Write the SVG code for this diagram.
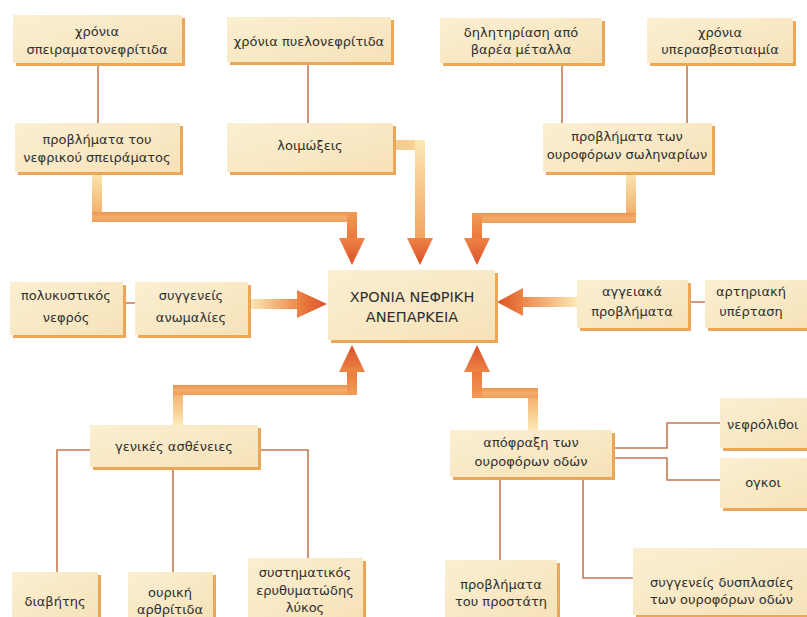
<svg xmlns="http://www.w3.org/2000/svg" width="807" height="617" viewBox="0 0 807 617">
<defs>
<linearGradient id="boxFill" x1="0" y1="0" x2="1" y2="1">
<stop offset="0" stop-color="#fbefd2"/><stop offset="1" stop-color="#f6e2b8"/>
</linearGradient>
<linearGradient id="gDown" x1="0" y1="0" x2="0" y2="1">
<stop offset="0" stop-color="#fce8b4"/><stop offset="1" stop-color="#f0a45e"/>
</linearGradient>
<linearGradient id="gUp" x1="0" y1="1" x2="0" y2="0">
<stop offset="0" stop-color="#fce8b4"/><stop offset="1" stop-color="#f0a45e"/>
</linearGradient>
<linearGradient id="gDownEnd" x1="0" y1="0" x2="0" y2="1">
<stop offset="0" stop-color="#f09c56"/><stop offset="1" stop-color="#e9753a"/>
</linearGradient>
<linearGradient id="gUpEnd" x1="0" y1="1" x2="0" y2="0">
<stop offset="0" stop-color="#f09c56"/><stop offset="1" stop-color="#e9753a"/>
</linearGradient>
<linearGradient id="gRight" x1="0" y1="0" x2="1" y2="0">
<stop offset="0" stop-color="#fce8b4"/><stop offset="1" stop-color="#ec8446"/>
</linearGradient>
<linearGradient id="gLeft" x1="1" y1="0" x2="0" y2="0">
<stop offset="0" stop-color="#fce8b4"/><stop offset="1" stop-color="#ec8446"/>
</linearGradient>
<linearGradient id="gStub" x1="0" y1="0" x2="1" y2="0">
<stop offset="0" stop-color="#f6c88a"/><stop offset="1" stop-color="#f8d8a0"/>
</linearGradient>
<linearGradient id="gBand" x1="0" y1="0" x2="0" y2="1">
<stop offset="0" stop-color="#ec9450"/><stop offset="0.5" stop-color="#f3ad6a"/><stop offset="1" stop-color="#ef9e5a"/>
</linearGradient>
<linearGradient id="gHeadD" x1="0" y1="0" x2="0" y2="1">
<stop offset="0" stop-color="#ee8444"/><stop offset="1" stop-color="#d9502a"/>
</linearGradient>
<linearGradient id="gHeadU" x1="0" y1="1" x2="0" y2="0">
<stop offset="0" stop-color="#ee8444"/><stop offset="1" stop-color="#d9502a"/>
</linearGradient>
<linearGradient id="gHeadR" x1="0" y1="0" x2="1" y2="0">
<stop offset="0" stop-color="#ee8444"/><stop offset="1" stop-color="#d9502a"/>
</linearGradient>
<linearGradient id="gHeadL" x1="1" y1="0" x2="0" y2="0">
<stop offset="0" stop-color="#ee8444"/><stop offset="1" stop-color="#d9502a"/>
</linearGradient>
</defs>
<style>
.sh{fill:#eba656}
.bx{fill:url(#boxFill)}
text{font-family:"DejaVu Sans","Liberation Sans",sans-serif;font-size:13px;fill:#2f2f2f;text-anchor:middle}
.st{text-anchor:start}
.big{font-size:14.5px}
.ln{fill:none;stroke:#c27a52;stroke-width:1.6}
.band{fill:url(#gBand)}
</style>
<rect width="807" height="617" fill="#ffffff"/>

<g id="connectors">
<path class="ln" d="M98 63V123M308 62V123M562 63V123M687 63V123M123 303H135M688 302H705"/>
<path class="ln" d="M90 450H57V572M173 467V572M258 450H308V558"/>
<path class="ln" d="M612 448H667V423H720M612 458H667V480H720M500 477V560M583 477V578H633"/>
<!-- arrow A -->
<rect x="92" y="172" width="10" height="50" fill="url(#gDown)"/>
<rect class="band" x="92" y="212" width="265" height="10"/>
<rect x="347" y="212" width="10" height="28" fill="url(#gDownEnd)"/>
<polygon points="339,238 365,238 352,265" fill="url(#gHeadD)"/>
<!-- arrow B -->
<rect x="393" y="140" width="32" height="10" fill="url(#gStub)"/>
<rect x="415" y="140" width="10" height="100" fill="url(#gDown)"/>
<polygon points="407,238 433,238 420,265" fill="url(#gHeadD)"/>
<!-- arrow C -->
<rect x="626" y="172" width="10" height="50" fill="url(#gDown)"/>
<rect class="band" x="472" y="213" width="164" height="10"/>
<rect x="472" y="213" width="10" height="27" fill="url(#gDownEnd)"/>
<polygon points="464,238 490,238 477,265" fill="url(#gHeadD)"/>
<!-- arrow D -->
<rect x="250" y="299" width="50" height="10" fill="url(#gRight)"/>
<polygon points="297,290 297,318 327,304" fill="url(#gHeadR)"/>
<!-- arrow E -->
<rect x="520" y="297" width="57" height="10" fill="url(#gLeft)"/>
<polygon points="523,288 523,316 497,302" fill="url(#gHeadL)"/>
<!-- arrow F -->
<rect x="173" y="385" width="10" height="40" fill="url(#gUp)"/>
<rect class="band" x="173" y="385" width="184" height="10"/>
<rect x="347" y="368" width="10" height="27" fill="url(#gUpEnd)"/>
<polygon points="339,372 365,372 352,345" fill="url(#gHeadU)"/>
<!-- arrow G -->
<rect x="528" y="388" width="10" height="42" fill="url(#gUp)"/>
<rect class="band" x="472" y="388" width="66" height="10"/>
<rect x="472" y="370" width="10" height="28" fill="url(#gUpEnd)"/>
<polygon points="464,372 490,372 477,345" fill="url(#gHeadU)"/>
</g>

<g id="n1"><rect class="sh" x="16" y="18" width="169" height="48"/><rect class="bx" x="13" y="15" width="169" height="48"/>
<text x="97" y="36">χρόνια</text><text x="97" y="54">σπειραματονεφρίτιδα</text></g>
<g id="n2"><rect class="sh" x="230" y="20" width="164" height="45"/><rect class="bx" x="227" y="17" width="164" height="45"/>
<text x="309" y="46">χρόνια πυελονεφρίτιδα</text></g>
<g id="n3"><rect class="sh" x="18" y="126" width="165" height="49"/><rect class="bx" x="15" y="123" width="165" height="49"/>
<text x="97" y="144">προβλήματα του</text><text x="97" y="162">νεφρικού σπειράματος</text></g>
<g id="n4"><rect class="sh" x="230" y="126" width="166" height="49"/><rect class="bx" x="227" y="123" width="166" height="49"/>
<text x="310" y="150">λοιμώξεις</text></g>
<g id="n5"><rect class="sh" x="443" y="21" width="162" height="45"/><rect class="bx" x="440" y="18" width="162" height="45"/>
<text x="521" y="37">δηλητηρίαση από</text><text x="521" y="54">βαρέα μέταλλα</text></g>
<g id="n6"><rect class="sh" x="650" y="21" width="146" height="45"/><rect class="bx" x="647" y="18" width="146" height="45"/>
<text x="720" y="37">χρόνια</text><text x="720" y="54">υπερασβεστιαιμία</text></g>
<g id="n7"><rect class="sh" x="546" y="126" width="169" height="49"/><rect class="bx" x="543" y="123" width="169" height="49"/>
<text x="627" y="141">προβλήματα των</text><text x="627" y="159">ουροφόρων σωληναρίων</text></g>
<g id="center"><rect class="sh" x="331" y="273" width="167" height="70"/><rect class="bx" x="328" y="270" width="167" height="70"/>
<text class="big" x="412" y="302">ΧΡΟΝΙΑ ΝΕΦΡΙΚΗ</text><text class="big" x="412" y="322">ΑΝΕΠΑΡΚΕΙΑ</text></g>
<g id="n9"><rect class="sh" x="13" y="285" width="113" height="53"/><rect class="bx" x="10" y="282" width="113" height="53"/>
<text x="66" y="300">πολυκυστικός</text><text x="66" y="322">νεφρός</text></g>
<g id="n10"><rect class="sh" x="138" y="285" width="113" height="53"/><rect class="bx" x="135" y="282" width="113" height="53"/>
<text x="191" y="300">συγγενείς</text><text x="191" y="322">ανωμαλίες</text></g>
<g id="n11"><rect class="sh" x="580" y="283" width="111" height="48"/><rect class="bx" x="577" y="280" width="111" height="48"/>
<text x="632" y="296">αγγειακά</text><text x="632" y="316">προβλήματα</text></g>
<g id="n12"><rect class="sh" x="708" y="283" width="110" height="48"/><rect class="bx" x="705" y="280" width="110" height="48"/>
<text x="751" y="296">αρτηριακή</text><text x="751" y="316">υπέρταση</text></g>
<g id="n13"><rect class="sh" x="93" y="428" width="168" height="42"/><rect class="bx" x="90" y="425" width="168" height="42"/>
<text x="174" y="451">γενικές ασθένειες</text></g>
<g id="n14"><rect class="sh" x="453" y="433" width="162" height="47"/><rect class="bx" x="450" y="430" width="162" height="47"/>
<text x="531" y="447">απόφραξη των</text><text x="531" y="466">ουροφόρων οδών</text></g>
<g id="n15"><rect class="sh" x="723" y="401" width="100" height="50"/><rect class="bx" x="720" y="398" width="100" height="50"/>
<text class="st" x="727" y="429">νεφρόλιθοι</text></g>
<g id="n16"><rect class="sh" x="723" y="461" width="100" height="50"/><rect class="bx" x="720" y="458" width="100" height="50"/>
<text x="763" y="487">ογκοι</text></g>
<g id="n17"><rect class="sh" x="448" y="563" width="112" height="60"/><rect class="bx" x="445" y="560" width="112" height="60"/>
<text x="501" y="589">προβλήματα</text><text x="501" y="606">του προστάτη</text></g>
<g id="n18"><rect class="sh" x="636" y="551" width="190" height="67"/><rect class="bx" x="633" y="548" width="190" height="67"/>
<text class="st" x="650" y="587">συγγενείς δυσπλασίες</text><text class="st" x="650" y="604">των ουροφόρων οδών</text></g>
<g id="n19"><rect class="sh" x="15" y="575" width="86" height="50"/><rect class="bx" x="12" y="572" width="86" height="50"/>
<text x="55" y="606">διαβήτης</text></g>
<g id="n20"><rect class="sh" x="131" y="575" width="85" height="50"/><rect class="bx" x="128" y="572" width="85" height="50"/>
<text x="170" y="597">ουρική</text><text x="170" y="614">αρθρίτιδα</text></g>
<g id="n21"><rect class="sh" x="251" y="561" width="115" height="62"/><rect class="bx" x="248" y="558" width="115" height="62"/>
<text x="305" y="577">συστηματικός</text><text x="305" y="595">ερυθυματώδης</text><text x="305" y="612">λύκος</text></g>
</svg>
